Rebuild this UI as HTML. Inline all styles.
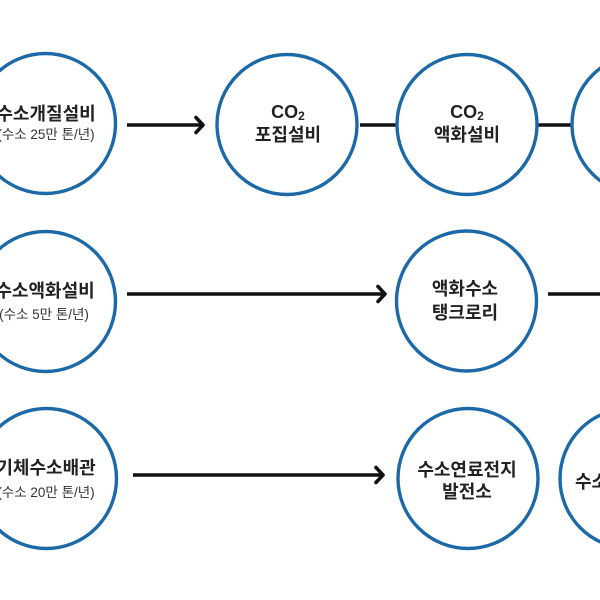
<!DOCTYPE html>
<html>
<head>
<meta charset="utf-8">
<style>
  html, body { margin:0; padding:0; background:#ffffff; }
  body { width:600px; height:600px; overflow:hidden; }
  svg { display:block; }
  .c { fill:#ffffff; stroke:#1c69a8; stroke-width:3.4; }
  .t { font-family:"Liberation Sans","Noto Sans CJK KR",sans-serif; font-size:18px; font-weight:700; fill:#222; text-anchor:middle; }
  .s { font-family:"Liberation Sans","Noto Sans CJK KR",sans-serif; font-size:13.5px; font-weight:400; fill:#333; text-anchor:middle; }
  .ln { stroke:#111; stroke-width:3.4; fill:none; }
  .ah { stroke:#111; stroke-width:3.6; fill:none; stroke-linecap:round; stroke-linejoin:round; }
</style>
</head>
<body>
<svg width="600" height="600" viewBox="0 0 600 600" xmlns="http://www.w3.org/2000/svg">
  <!-- Row 1 -->
  <line class="ln" x1="360" y1="125" x2="396" y2="125"/>
  <line class="ln" x1="537" y1="125" x2="572" y2="125"/>
  <circle class="c" cx="45.5" cy="123.5" r="70"/>
  <circle class="c" cx="287" cy="124.5" r="70"/>
  <circle class="c" cx="467" cy="124.5" r="70"/>
  <circle class="c" cx="642" cy="124.5" r="70"/>
  <line class="ln" x1="127" y1="125" x2="201" y2="125"/>
  <polyline class="ah" points="196,117.5 203,125 196,132.5"/>

  <text class="t" x="46" y="120">수소개질설비</text>
  <text class="s" x="46" y="139">(수소 25만 톤/년)</text>
  <text class="t" x="288" y="118">CO<tspan font-size="12" dy="2">2</tspan></text>
  <text class="t" x="288" y="141">포집설비</text>
  <text class="t" x="467" y="118">CO<tspan font-size="12" dy="2">2</tspan></text>
  <text class="t" x="467" y="141">액화설비</text>

  <!-- Row 2 -->
  <circle class="c" cx="45.5" cy="301.5" r="70"/>
  <circle class="c" cx="466.5" cy="301" r="70"/>
  <line class="ln" x1="127" y1="294" x2="383" y2="294"/>
  <polyline class="ah" points="378,286.5 385,294 378,301.5"/>
  <line class="ln" x1="548" y1="294" x2="600" y2="294"/>

  <text class="t" x="45" y="297">수소액화설비</text>
  <text class="s" x="44" y="319">(수소 5만 톤/년)</text>
  <text class="t" x="465" y="295">액화수소</text>
  <text class="t" x="465" y="319">탱크로리</text>

  <!-- Row 3 -->
  <circle class="c" cx="46.5" cy="478.5" r="70"/>
  <circle class="c" cx="468" cy="478.5" r="70"/>
  <circle class="c" cx="630" cy="478.5" r="70"/>
  <line class="ln" x1="133" y1="475" x2="381" y2="475"/>
  <polyline class="ah" points="376,467.5 383,475 376,482.5"/>

  <text class="t" x="46" y="474">기체수소배관</text>
  <text class="s" x="46" y="497">(수소 20만 톤/년)</text>
  <text class="t" x="467" y="476">수소연료전지</text>
  <text class="t" x="467" y="498">발전소</text>
  <text class="t" x="575" y="488" style="text-anchor:start">수소충전소</text>
</svg>
</body>
</html>
